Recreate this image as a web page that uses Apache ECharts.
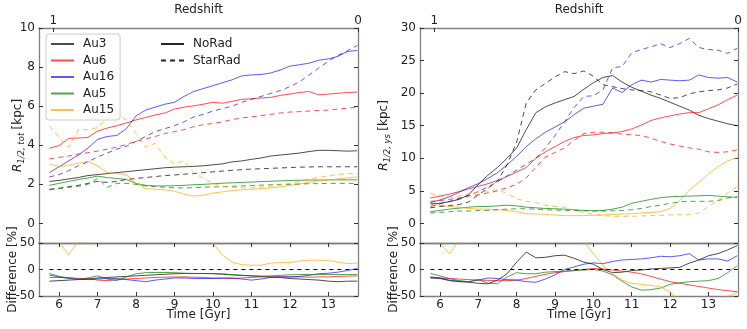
<!DOCTYPE html>
<html><head><meta charset="utf-8">
<script src="https://cdn.jsdelivr.net/npm/echarts@6/dist/echarts.min.js"></script>
<style>html,body{margin:0;padding:0;background:#fff}#c{width:747px;height:329px}</style>
</head><body><div id="c"></div>
<script>
// ---------- DATA ----------
const times = [5.75,6.0,6.25,6.5,6.75,7.0,7.25,7.5,7.75,8.0,8.25,8.5,8.75,9.0,9.25,9.5,9.75,10.0,10.25,10.5,10.75,11.0,11.25,11.5,11.75,12.0,12.25,12.5,12.75,13.0,13.25,13.5,13.75];
const galaxies = ['Au3','Au6','Au16','Au5','Au15'];
const variantNames = ['NoRad','StarRad'];
const redshiftTicks = [5.85, 13.77];
const redshiftLabels = ['1','0'];
const timeTicks = [6,7,8,9,10,11,12,13];
const totTicks = [0,2,4,6,8,10];
const ysTicks = [0,5,10,15,20,25,30];
const diffTicks = [-50,0,50];

// R_1/2,tot [kpc]
const tot_Au3_NoRad   = [2.15,2.2,2.28,2.35,2.45,2.5,2.55,2.6,2.65,2.7,2.75,2.8,2.85,2.88,2.9,2.92,2.95,3.0,3.05,3.15,3.2,3.28,3.35,3.45,3.5,3.55,3.6,3.68,3.74,3.74,3.72,3.7,3.72];
const tot_Au3_StarRad = [1.75,1.8,1.88,1.95,2.05,2.15,2.1,2.15,2.25,2.3,2.35,2.4,2.45,2.48,2.52,2.55,2.6,2.64,2.68,2.72,2.75,2.78,2.8,2.82,2.84,2.86,2.88,2.89,2.9,2.9,2.9,2.9,2.9];
const tot_Au6_NoRad   = [3.85,3.98,4.35,4.37,4.4,4.72,4.88,5.0,5.14,5.3,5.42,5.55,5.65,5.85,5.95,6.02,6.1,6.2,6.15,6.25,6.35,6.38,6.42,6.45,6.55,6.62,6.7,6.75,6.58,6.62,6.66,6.7,6.72];
const tot_Au6_StarRad = [3.3,3.38,3.45,3.55,3.62,3.7,3.8,3.9,4.05,4.2,4.32,4.45,4.6,4.7,4.8,4.95,5.05,5.12,5.2,5.32,5.4,5.45,5.52,5.58,5.65,5.7,5.72,5.75,5.78,5.8,5.85,5.9,5.95];
const tot_Au16_NoRad   = [2.6,2.9,3.2,3.5,3.85,4.3,4.45,4.5,4.85,5.5,5.8,5.95,6.1,6.2,6.5,6.75,6.9,7.05,7.2,7.35,7.55,7.6,7.62,7.7,7.85,8.05,8.12,8.2,8.35,8.42,8.55,8.8,8.85];
const tot_Au16_StarRad = [2.38,2.5,2.7,2.95,3.15,3.4,3.6,3.8,3.95,4.2,4.45,4.7,4.85,5.0,5.2,5.45,5.58,5.75,5.88,6.0,6.2,6.35,6.5,6.65,6.8,7.0,7.25,7.6,7.95,8.3,8.6,8.85,9.1];
const tot_Au5_NoRad   = [1.95,2.05,2.15,2.25,2.32,2.42,2.35,2.3,2.25,2.05,1.95,1.92,1.92,1.93,1.95,1.98,2.0,2.03,2.06,2.08,2.1,2.12,2.14,2.16,2.18,2.2,2.21,2.22,2.22,2.23,2.23,2.23,2.23];
const tot_Au5_StarRad = [1.72,1.78,1.85,1.9,2.0,2.3,1.85,2.05,2.05,2.0,1.92,1.88,1.85,1.82,1.82,1.83,1.85,1.87,1.88,1.9,1.92,1.94,1.96,1.98,2.0,2.0,2.02,2.03,2.04,2.05,2.05,2.05,2.05];
const tot_Au15_NoRad   = [3.05,2.9,2.98,3.08,3.18,2.95,2.6,2.55,2.5,2.05,1.78,1.75,1.72,1.65,1.5,1.4,1.45,1.55,1.62,1.68,1.72,1.75,1.78,1.82,1.88,1.95,2.02,2.1,2.18,2.22,2.28,2.33,2.38];
const tot_Au15_StarRad = [5.0,4.4,3.9,4.8,4.8,4.9,5.4,5.6,5.3,4.6,3.9,4.1,3.4,3.05,3.2,2.6,2.3,2.05,1.9,1.85,1.82,1.82,1.86,1.9,1.98,2.05,2.15,2.25,2.35,2.45,2.5,2.55,2.55];

// R_1/2,ys [kpc]
const ys_Au3_NoRad   = [3.0,3.1,3.35,3.7,4.4,6.0,7.4,8.6,10.0,11.6,14.4,17.0,17.9,18.5,19.0,19.5,20.6,21.6,22.4,22.7,21.7,20.9,20.3,19.7,19.2,18.6,18.0,17.4,16.6,16.1,15.7,15.3,15.0];
const ys_Au3_StarRad = [2.4,2.6,2.75,2.9,3.3,4.4,5.4,6.5,9.0,12.5,18.5,20.5,21.5,22.5,23.3,23.0,23.4,22.6,21.3,21.0,20.7,20.5,20.4,20.2,19.7,19.2,19.3,19.9,20.2,20.4,20.5,20.8,21.4];
const ys_Au6_NoRad   = [3.9,4.2,4.5,4.9,5.3,5.7,6.1,6.6,7.2,7.9,8.6,10.0,11.0,11.8,12.6,13.2,13.5,13.6,13.8,13.9,14.1,14.5,15.1,15.8,16.2,16.5,16.8,17.0,17.0,17.6,18.2,19.0,19.7];
const ys_Au6_StarRad = [3.4,3.5,3.7,3.9,4.2,4.4,4.7,5.0,5.5,6.0,7.0,8.6,10.2,10.9,11.6,12.8,13.8,14.0,14.0,13.9,13.7,13.6,13.5,13.1,12.6,12.2,11.9,11.6,11.4,11.0,10.9,11.0,11.3];
const ys_Au16_NoRad   = [3.2,3.6,4.1,4.8,5.5,6.1,6.9,7.8,9.0,10.3,11.8,13.0,14.0,14.8,15.6,16.7,17.7,18.0,18.3,20.8,20.1,21.3,22.0,21.7,22.1,22.0,21.9,22.0,22.8,22.4,22.3,22.4,21.7];
const ys_Au16_StarRad = [2.6,3.0,3.4,3.8,4.3,4.9,5.6,6.4,7.3,8.2,9.1,10.0,11.6,13.5,15.6,17.8,19.5,19.6,20.5,23.9,24.1,26.2,26.7,27.1,27.6,27.0,27.6,28.4,27.0,26.7,26.6,26.1,26.9];
const ys_Au5_NoRad   = [1.8,2.0,2.2,2.35,2.5,2.6,2.6,2.7,2.8,2.7,2.5,2.4,2.3,2.25,2.2,2.1,2.0,1.95,2.0,2.2,2.5,3.1,3.4,3.7,3.95,4.1,4.15,4.2,4.25,4.3,4.2,4.1,4.0];
const ys_Au5_StarRad = [1.6,1.7,1.8,1.9,1.9,2.0,2.0,2.1,2.2,2.25,2.25,2.2,2.1,2.05,2.0,2.0,1.95,1.9,1.9,1.95,2.0,2.1,2.3,2.6,2.8,3.1,3.3,3.4,3.4,3.4,3.5,3.9,4.1];
const ys_Au15_NoRad   = [2.9,2.8,2.6,2.5,2.3,2.2,2.2,2.1,2.0,1.8,1.5,1.45,1.4,1.3,1.2,1.2,1.2,1.25,1.3,1.4,1.45,1.5,1.6,1.7,1.8,2.3,3.5,5.1,6.3,7.6,8.7,9.6,10.1];
const ys_Au15_StarRad = [4.6,4.2,4.0,4.2,4.6,4.8,5.0,5.2,4.6,3.8,3.4,3.2,2.8,2.6,2.5,2.0,1.7,1.4,1.2,1.1,1.1,1.1,1.15,1.2,1.25,1.3,1.35,1.4,1.6,2.6,3.6,4.7,5.7];

// Difference [%] (StarRad vs NoRad)
const diffTot_Au3  = [-22,-21,-20,-19,-18,-16,-15,-14,-13,-12,-11,-10,-9,-8,-7.5,-7.5,-7.5,-8,-9,-10,-11,-12,-13,-14,-15,-17,-18,-19,-20,-22,-23,-22,-22];
const diffTot_Au6  = [-15,-15,-15,-17,-17,-20,-21,-19,-18,-17,-16,-15,-14.5,-14,-14,-14.5,-15,-16,-16,-17,-16,-15,-14,-14,-14,-14,-14,-14.5,-14,-14,-13,-12.5,-12];
const diffTot_Au16 = [-10.5,-14,-17,-18,-19,-18,-17,-17,-19,-21,-23,-20,-18,-16,-16,-17,-17,-17,-16.5,-16,-18,-20,-18,-15,-14,-14,-13,-11,-8,-7,-5,-2,2];
const diffTot_Au5  = [-7.5,-13,-16,-19,-16,-12,-18,-21,-14,-8,-6,-5.6,-5.6,-6,-7,-7.5,-7.5,-7.5,-8,-10,-11,-12,-12.5,-12,-11,-10,-9.5,-9.4,-9.4,-9.4,-9.4,-9.4,-9.4];
const diffTot_Au15 = [64,52,28,53,51,66,108,120,112,124,119,134,98,85,113,86,59,50,27,14,9,8,8,12,13,13,16,17.5,17.5,17,14,11,12];
const diffYs_Au3  = [-16,-17,-21,-23,-24,-26,-27,-20,-8,14,33,22,23,26,27,21,14,10,0,-6,-5,-2,-1,1,2,3,4,12,18,26,30,37,45];
const diffYs_Au6  = [-15,-16,-17,-18,-19,-20,-20.5,-21,-21,-20,-17,-13,-9,-6,-4,-2,0,2,1,-1,-3,-5,-8,-13,-18,-23,-26,-29,-32,-35,-38,-40,-42];
const diffYs_Au16 = [-14,-16,-20,-22,-23,-20,-16,-17,-19,-20,-23,-24,-18,-10,0,5,10,12.5,11,15,18,19,20,22,25,24,26,30,18,20,20,16,26];
const diffYs_Au5  = [-7.5,-12,-17,-21,-23,-19,-26,-27,-14,-6,-8,-8,-5,-4,-3,-2,-1,0,-3,-10,-22,-33,-39,-38,-35,-28,-25,-23,-22,-21,-17,-6,7];
const diffYs_Au15 = [58,50,30,55,100,118,127,148,130,111,127,121,100,100,108,67,52,30,8,-8,-20,-26,-28,-30,-33,-42,-62,-73,-75,-66,-59,-51,-43];

// ---------- STYLE ----------
const FONT = 'DejaVu Sans';
const TXT = '#222';
const FRAME = '#808080';
const TMIN = 5.48, TMAX = 13.77;
const colors = {
  Au3: 'rgba(0,0,0,0.7)', Au6: 'rgba(255,0,0,0.7)', Au16: 'rgba(0,0,255,0.65)',
  Au5: 'rgba(0,128,0,0.7)', Au15: 'rgba(255,165,0,0.7)'
};
const DASH = [5, 4];

const totData = {
  Au3: [tot_Au3_NoRad, tot_Au3_StarRad], Au6: [tot_Au6_NoRad, tot_Au6_StarRad],
  Au16: [tot_Au16_NoRad, tot_Au16_StarRad], Au5: [tot_Au5_NoRad, tot_Au5_StarRad],
  Au15: [tot_Au15_NoRad, tot_Au15_StarRad]
};
const ysData = {
  Au3: [ys_Au3_NoRad, ys_Au3_StarRad], Au6: [ys_Au6_NoRad, ys_Au6_StarRad],
  Au16: [ys_Au16_NoRad, ys_Au16_StarRad], Au5: [ys_Au5_NoRad, ys_Au5_StarRad],
  Au15: [ys_Au15_NoRad, ys_Au15_StarRad]
};
const diffTot = {Au3: diffTot_Au3, Au6: diffTot_Au6, Au16: diffTot_Au16, Au5: diffTot_Au5, Au15: diffTot_Au15};
const diffYs = {Au3: diffYs_Au3, Au6: diffYs_Au6, Au16: diffYs_Au16, Au5: diffYs_Au5, Au15: diffYs_Au15};

const tickStyle = {show: true, inside: true, length: 4, lineStyle: {color: '#333', width: 1}};
const lblStyle = {fontFamily: FONT, fontSize: 12, color: TXT};

function xAx(grid, pos, extra) {
  return Object.assign({
    type: 'value', gridIndex: grid, position: pos, min: TMIN, max: TMAX,
    axisLine: {show: true, onZero: false, lineStyle: {color: FRAME, width: 1.3}},
    axisTick: {show: false}, axisLabel: {show: false}, splitLine: {show: false},
    nameMoveOverlap: false
  }, extra || {});
}
function yAx(grid, pos, min, max, ticks, extra) {
  return Object.assign({
    type: 'value', gridIndex: grid, position: pos, min: min, max: max,
    axisLine: {show: true, onZero: false, lineStyle: {color: FRAME, width: 1.3}},
    axisTick: Object.assign({customValues: ticks}, tickStyle),
    axisLabel: {show: false}, splitLine: {show: false},
    nameMoveOverlap: false
  }, extra || {});
}
function redshiftAxis(grid) {
  return xAx(grid, 'top', {
    axisTick: Object.assign({customValues: redshiftTicks}, tickStyle),
    axisLabel: Object.assign({show: true, margin: 1, customValues: redshiftTicks,
      formatter: function (v) {
        let best = 0;
        redshiftTicks.forEach(function (t, i) { if (Math.abs(t - v) < Math.abs(redshiftTicks[best] - v)) best = i; });
        return redshiftLabels[best];
      }}, lblStyle),
    name: 'Redshift', nameLocation: 'middle', nameGap: 12,
    nameTextStyle: {fontFamily: FONT, fontSize: 12, color: TXT}
  });
}
function timeAxis(grid) {
  return xAx(grid, 'bottom', {
    axisTick: Object.assign({customValues: timeTicks}, tickStyle),
    axisLabel: Object.assign({show: true, margin: 3, customValues: timeTicks}, lblStyle),
    name: 'Time [Gyr]', nameLocation: 'middle', nameGap: 13,
    nameTextStyle: {fontFamily: FONT, fontSize: 12, color: TXT}
  });
}
function richName(sub) {
  return '{it|R}{sub|' + sub + '} {n|[kpc]}';
}
const richStyle = {
  it: {fontFamily: FONT, fontSize: 12, fontStyle: 'italic', color: TXT, lineHeight: 16, verticalAlign: 'middle'},
  sub: {fontFamily: FONT, fontSize: 8.5, fontStyle: 'italic', color: TXT, lineHeight: 9, verticalAlign: 'bottom'},
  n: {fontFamily: FONT, fontSize: 12, color: TXT, lineHeight: 16, verticalAlign: 'middle'}
};

const xAxis = [
  xAx(0, 'bottom'), redshiftAxis(0), timeAxis(1), xAx(1, 'top', {axisTick: Object.assign({customValues: timeTicks}, tickStyle)}),
  xAx(2, 'bottom'), redshiftAxis(2), timeAxis(3), xAx(3, 'top', {axisTick: Object.assign({customValues: timeTicks}, tickStyle)})
];
const yAxis = [
  yAx(0, 'left', -1, 10, totTicks, {
    axisLabel: Object.assign({show: true, margin: 4, customValues: totTicks}, lblStyle),
    name: richName('1/2, tot'), nameLocation: 'middle', nameGap: 13, nameTextStyle: {rich: richStyle}
  }),
  yAx(0, 'right', -1, 10, totTicks),
  yAx(1, 'left', -50, 50, diffTicks, {
    axisLabel: Object.assign({show: true, margin: 4, customValues: diffTicks}, lblStyle),
    name: 'Difference [%]', nameLocation: 'middle', nameGap: 20,
    nameTextStyle: {fontFamily: FONT, fontSize: 12, color: TXT}
  }),
  yAx(1, 'right', -50, 50, diffTicks),
  yAx(2, 'left', -3, 30, ysTicks, {
    axisLabel: Object.assign({show: true, margin: 4, customValues: ysTicks}, lblStyle),
    name: richName('1/2, ys'), nameLocation: 'middle', nameGap: 28, nameTextStyle: {rich: richStyle}
  }),
  yAx(2, 'right', -3, 30, ysTicks),
  yAx(3, 'left', -50, 50, diffTicks, {
    axisLabel: Object.assign({show: true, margin: 4, customValues: diffTicks}, lblStyle),
    name: 'Difference [%]', nameLocation: 'middle', nameGap: 20,
    nameTextStyle: {fontFamily: FONT, fontSize: 12, color: TXT}
  }),
  yAx(3, 'right', -50, 50, diffTicks)
];

function mkLine(name, xi, yi, values, color, dashed, z) {
  return {
    type: 'line', name: name, xAxisIndex: xi, yAxisIndex: yi,
    data: times.map(function (t, i) { return [t, values[i]]; }),
    showSymbol: false, symbol: 'none', clip: true, silent: true, z: z || 2,
    lineStyle: {color: color, width: 1, type: dashed ? DASH : 'solid'},
    itemStyle: {color: color}
  };
}

const series = [];
// solid series first so the legend takes their style
galaxies.forEach(function (g) { series.push(mkLine(g, 0, 0, totData[g][0], colors[g], false)); });
galaxies.forEach(function (g) { series.push(mkLine(g + ' StarRad', 0, 0, totData[g][1], colors[g], true)); });
galaxies.forEach(function (g) { series.push(mkLine(g + ' ys', 4, 4, ysData[g][0], colors[g], false)); });
galaxies.forEach(function (g) { series.push(mkLine(g + ' ys StarRad', 4, 4, ysData[g][1], colors[g], true)); });
galaxies.forEach(function (g) { series.push(mkLine(g + ' diff tot', 2, 2, diffTot[g], colors[g], false)); });
galaxies.forEach(function (g) { series.push(mkLine(g + ' diff ys', 6, 6, diffYs[g], colors[g], false)); });

// zero reference lines in the difference panels
[[2, 2], [6, 6]].forEach(function (ax) {
  series.push({
    type: 'line', name: 'zero' + ax[0], xAxisIndex: ax[0], yAxisIndex: ax[1], data: [], silent: true,
    markLine: {
      silent: true, symbol: ['none', 'none'], label: {show: false},
      lineStyle: {color: '#000', width: 1, type: [4, 4]},
      data: [[{coord: [times[0], 0]}, {coord: [times[times.length - 1], 0]}]]
    }
  });
});
// legend-only entries for the run variants
series.push({type: 'line', name: variantNames[0], xAxisIndex: 0, yAxisIndex: 0, data: [], symbol: 'none',
  lineStyle: {color: 'rgba(0,0,0,0.85)', width: 1, type: 'solid'}, itemStyle: {color: 'rgba(0,0,0,0.85)'}});
series.push({type: 'line', name: variantNames[1], xAxisIndex: 0, yAxisIndex: 0, data: [], symbol: 'none',
  lineStyle: {color: 'rgba(0,0,0,0.85)', width: 1, type: DASH}, itemStyle: {color: 'rgba(0,0,0,0.85)'}});

const legendText = {fontFamily: FONT, fontSize: 12, color: TXT, padding: [0, 0, 0, 4]};
const option = {
  animation: false,
  backgroundColor: '#fff',
  grid: [
    {left: 39, top: 28, width: 319, height: 215, outerBoundsMode: 'none'},
    {left: 39, top: 243, width: 319, height: 53, outerBoundsMode: 'none'},
    {left: 420, top: 28, width: 318, height: 215, outerBoundsMode: 'none'},
    {left: 420, top: 243, width: 318, height: 53, outerBoundsMode: 'none'}
  ],
  legend: [
    {data: galaxies, orient: 'vertical', left: 46, top: 34, itemWidth: 23, itemHeight: 12, itemGap: 4.5,
     backgroundColor: 'rgba(255,255,255,0.8)', borderColor: '#cccccc', borderWidth: 1, borderRadius: 3,
     padding: [4, 6, 4, 4], textStyle: legendText, selectedMode: false, itemStyle: {opacity: 0}},
    {data: variantNames, orient: 'vertical', left: 156, top: 34, itemWidth: 23, itemHeight: 12, itemGap: 4.5,
     padding: [4, 6, 4, 4], textStyle: legendText, selectedMode: false, itemStyle: {opacity: 0}}
  ],
  xAxis: xAxis,
  yAxis: yAxis,
  series: series
};
const chart = echarts.init(document.getElementById('c'), null, {renderer: 'canvas'});
chart.setOption(option);
</script>
</body></html>
